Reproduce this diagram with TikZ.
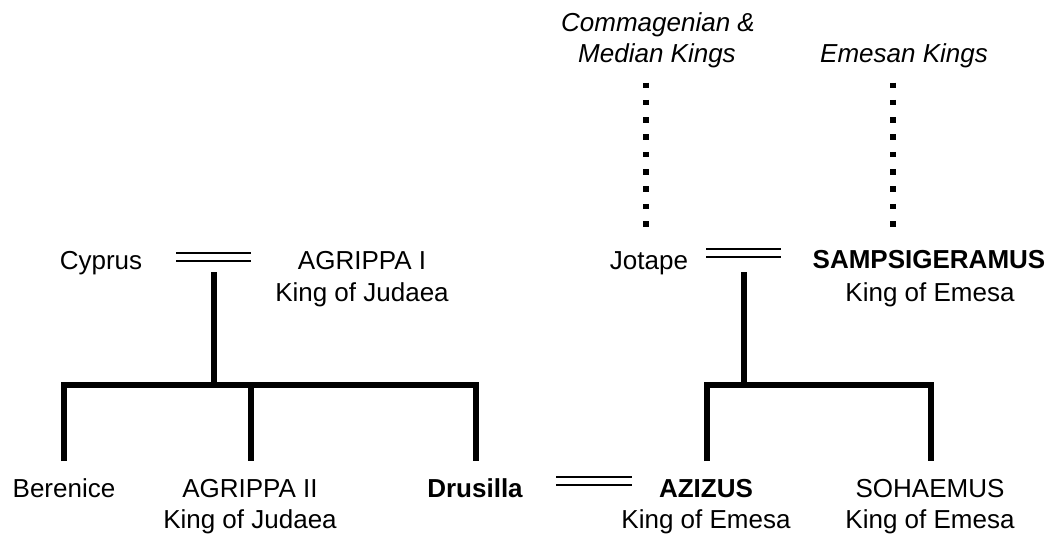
\documentclass[tikz,border=0pt]{standalone}
\usepackage{fontspec}
\setmainfont{Liberation Sans}
\begin{document}
\begin{tikzpicture}[x=1pt,y=-1pt,
  every node/.style={inner sep=0pt, anchor=base, font=\fontsize{26}{31}\selectfont},
  royal/.style={font=\fontsize{26}{31}\selectfont\bfseries},
  house/.style={font=\fontsize{26}{31}\selectfont\itshape},
  descent/.style={line width=5.5pt, line join=miter},
  marriage/.style={double, double distance=6.5pt, line width=1.5pt},
  lineage/.style={line width=5.5pt, dash pattern=on 5.5pt off 11.83pt}]
\useasboundingbox (0,0) rectangle (1060,535);

% ancestral houses
\node[house] (comm1) at (658,32) {Commagenian \&};
\node[house] (comm2) at (657,63) {Median Kings};
\node[house] (emes) at (904,63) {Emesan Kings};

% first generation
\node (cyprus) at (101,269) {Cyprus};
\node (agr1) at (362,269) {AGRIPPA I};
\node (agr1t) at (362,301) {King of Judaea};
\node (jotape) at (649,269) {Jotape};
\node[royal] (samps) at (929,268) {SAMPSIGERAMUS};
\node (sampst) at (930,301) {King of Emesa};

% second generation
\node (berenice) at (64,497) {Berenice};
\node (agr2) at (250,497) {AGRIPPA II};
\node (agr2t) at (250,528) {King of Judaea};
\node[royal] (drusilla) at (475,497) {Drusilla};
\node[royal] (azizus) at (706,497) {AZIZUS};
\node (azizust) at (706,528) {King of Emesa};
\node (sohaemus) at (930,497) {SOHAEMUS};
\node (sohaemust) at (930,528) {King of Emesa};

% descent from the ancestral houses
\coordinate (commA) at (646,82.5);
\coordinate (commB) at (646,226.5);
\coordinate (emesA) at (893,82.5);
\coordinate (emesB) at (893,226.5);
\draw[lineage] (commA) -- (commB);
\draw[lineage] (emesA) -- (emesB);

% marriages
\coordinate (m1a) at (176,257);
\coordinate (m1b) at (251,257);
\coordinate (m2a) at (706,253);
\coordinate (m2b) at (781,253);
\coordinate (m3a) at (556,481);
\coordinate (m3b) at (632,481);
\draw[marriage] (m1a) -- (m1b);
\draw[marriage] (m2a) -- (m2b);
\draw[marriage] (m3a) -- (m3b);

% children of Agrippa I and Cyprus
\coordinate (stem1) at (214,272);
\coordinate (bar1) at (214,385);
\coordinate (c1) at (64,461);
\coordinate (c2) at (251,461);
\coordinate (c3) at (476,461);
\draw[descent] (stem1) -- (bar1);
\draw[descent] (c1) |- (bar1) -| (c3);
\draw[descent] (bar1 -| c2) -- (c2);

% children of Sampsigeramus and Jotape
\coordinate (stem2) at (744,272);
\coordinate (bar2) at (744,385);
\coordinate (d1) at (707,461);
\coordinate (d2) at (931,461);
\draw[descent] (stem2) -- (bar2);
\draw[descent] (d1) |- (bar2) -| (d2);
\end{tikzpicture}
\end{document}
